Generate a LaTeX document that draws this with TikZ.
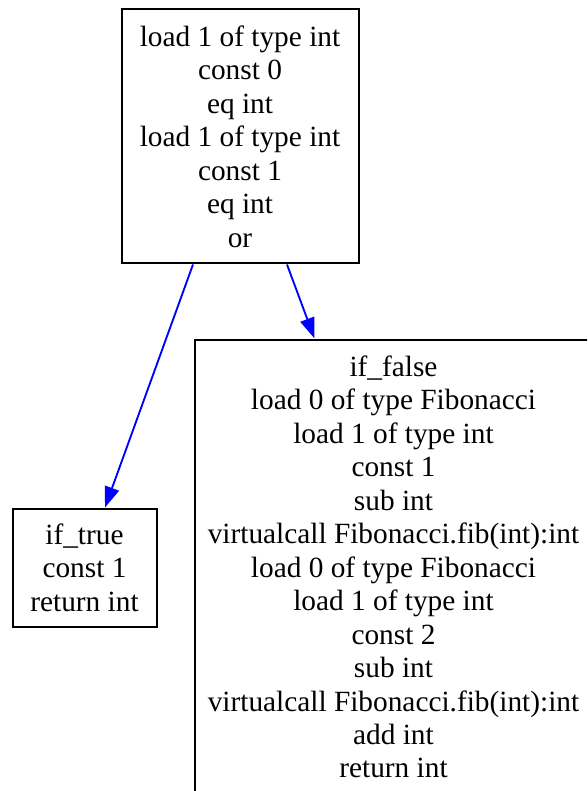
\documentclass[tikz,border=0pt]{standalone}
\usepackage{fontspec}
\setmainfont{LiberationSerif}[Extension=.ttf,UprightFont=*-Regular,BoldFont=*-Bold]
\usetikzlibrary{arrows.meta,calc}
\begin{document}
\begin{tikzpicture}[x=0.75pt,y=-0.75pt,
  block/.style={draw=black,line width=1.5pt,fill=white,align=center,inner sep=0pt,
    font=\fontsize{22}{25.1}\selectfont},
  flow/.style={draw=blue,line width=1.4pt,
    -{Triangle[length=15.5pt,width=11pt,fill=blue]}}]
\useasboundingbox (0,0) rectangle (587,791);
\clip (0,0) rectangle (587,791);
\fill[white] (0,0) rectangle (587,791);

\node[block,minimum width=237*0.75pt,minimum height=254*0.75pt] (cond) at (240,136.5)
  {load 1 of type int\\const 0\\eq int\\load 1 of type int\\const 1\\eq int\\or};

\node[block,minimum width=144*0.75pt,minimum height=118*0.75pt] (base) at (84.5,567.5)
  {if\_true\\const 1\\return int};

\node[block,minimum width=398*0.75pt,minimum height=455*0.75pt] (rec) at (393.5,567)
  {if\_false\\load 0 of type Fibonacci\\load 1 of type int\\const 1\\sub int\\
   virtualcall Fibonacci.fib(int):int\\load 0 of type Fibonacci\\load 1 of type int\\
   const 2\\sub int\\virtualcall Fibonacci.fib(int):int\\add int\\return int};

\draw[flow] ($(cond.south)+(-47,0)$) -- ($(base.north)+(20.5,0)$);
\draw[flow] ($(cond.south)+(47,0)$) -- ($(rec.north)+(-79,0)$);
\end{tikzpicture}
\end{document}
